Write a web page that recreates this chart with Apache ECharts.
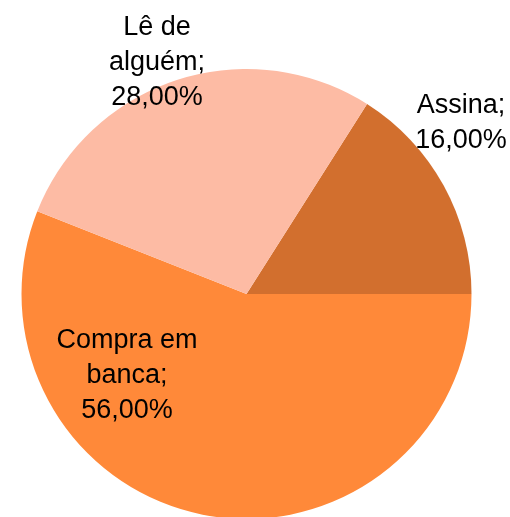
<!DOCTYPE html>
<html>
<head>
<meta charset="utf-8">
<script src="https://cdn.jsdelivr.net/npm/echarts@6/dist/echarts.min.js"></script>
<style>
  html, body { margin: 0; padding: 0; background: #ffffff; }
  #chart { width: 510px; height: 517px; }
</style>
</head>
<body>
<div id="chart"></div>
<script>
// Data
const categories = ["Assina", "Compra em banca", "Lê de alguém"];
const values = [16, 56, 28];

// Styling
const sliceColors = ["#D26F2E", "#FF8939", "#FDBBA4"];
// Label anchor points (pixel centres of the text blocks)
const labelAnchors = [[461, 123], [127, 376], [157, 63]];

const total = values.reduce((a, b) => a + b, 0);
const startAngle = 360 * values[0] / total;

const chart = echarts.init(document.getElementById('chart'), null, { renderer: 'canvas' });
chart.setOption({
  backgroundColor: '#ffffff',
  animation: false,
  series: [{
    type: 'pie',
    center: [246.5, 294],
    radius: [0, 225],
    startAngle: startAngle,
    clockwise: true,
    avoidLabelOverlap: false,
    data: categories.map((c, i) => ({
      name: c,
      value: values[i],
      itemStyle: { color: sliceColors[i] }
    })),
    itemStyle: { borderWidth: 0 },
    label: {
      show: true,
      position: 'outside',
      fontFamily: "'Liberation Sans', Arial, sans-serif",
      fontSize: 27,
      lineHeight: 35,
      color: '#000000',
      align: 'center',
      formatter: function (p) {
        const name = p.name;
        const idx = name.lastIndexOf(' ');
        const wrapped = idx > 0 ? name.slice(0, idx) + '\n' + name.slice(idx + 1) : name;
        return wrapped + ';\n' + p.percent.toFixed(2).replace('.', ',') + '%';
      }
    },
    labelLine: { show: false },
    labelLayout: function (params) {
      const a = labelAnchors[params.dataIndex];
      return { x: a[0], y: a[1], align: 'center', verticalAlign: 'middle' };
    },
    emphasis: { disabled: true }
  }]
});
</script>
</body>
</html>
